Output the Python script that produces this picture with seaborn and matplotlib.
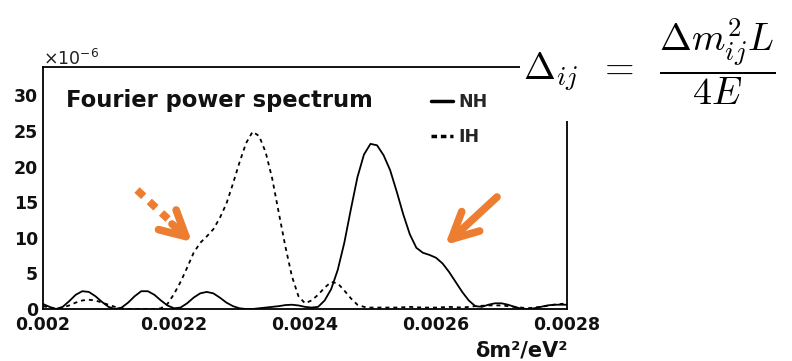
import numpy as np
import pandas as pd
import matplotlib
matplotlib.use("Agg")
import matplotlib.pyplot as plt
import seaborn as sns
from matplotlib.lines import Line2D
from matplotlib.patches import Rectangle
from matplotlib.ticker import MultipleLocator, FixedLocator, FixedFormatter

# ---------------- data (y in units of 1e-6) ----------------
nh_x = [0.00200, 0.00201, 0.00202, 0.00203, 0.00204, 0.00205, 0.00206, 0.00207, 0.00208, 0.00209,
        0.00210, 0.00211, 0.00212, 0.00213, 0.00214, 0.00215, 0.00216, 0.00217, 0.00218, 0.00219,
        0.00220, 0.00221, 0.00222, 0.00223, 0.00224, 0.00225, 0.00226, 0.00227, 0.00228, 0.00229,
        0.00230, 0.00231, 0.00232, 0.00233, 0.00234, 0.00235, 0.00236, 0.00237, 0.00238, 0.00239,
        0.00240, 0.00241, 0.00242, 0.00243, 0.00244, 0.00245, 0.00246, 0.00247, 0.00248, 0.00249,
        0.00250, 0.00251, 0.00252, 0.00253, 0.00254, 0.00255, 0.00256, 0.00257, 0.00258, 0.00259,
        0.00260, 0.00261, 0.00262, 0.00263, 0.00264, 0.00265, 0.00266, 0.00267, 0.00268, 0.00269,
        0.00270, 0.00271, 0.00272, 0.00273, 0.00274, 0.00275, 0.00276, 0.00277, 0.00278, 0.00279,
        0.00280]
nh_y = [0.7, 0.3, 0.0, 0.3, 1.1, 2.0, 2.5, 2.4, 1.8, 1.0,
        0.3, 0.0, 0.2, 0.9, 1.8, 2.5, 2.5, 2.0, 1.2, 0.5,
        0.1, 0.2, 0.8, 1.6, 2.2, 2.4, 2.2, 1.6, 0.9, 0.4,
        0.1, 0.0, 0.0, 0.1, 0.2, 0.3, 0.4, 0.55, 0.6, 0.5,
        0.3, 0.2, 0.3, 1.2, 2.8, 5.5, 9.3, 14.0, 18.5, 21.7,
        23.2, 23.0, 21.6, 19.5, 16.5, 13.3, 10.5, 8.6, 7.9, 7.6,
        7.2, 6.4, 5.2, 3.8, 2.4, 1.2, 0.4, 0.3, 0.6, 0.8,
        0.8, 0.6, 0.3, 0.05, 0.0, 0.1, 0.3, 0.5, 0.6, 0.6,
        0.6]

ih_x = [0.00200, 0.00201, 0.00202, 0.00203, 0.00204, 0.00205, 0.00206, 0.00207, 0.00208, 0.00209,
        0.00210, 0.00211, 0.00212, 0.00213, 0.00214, 0.00215, 0.00216, 0.00217, 0.00218, 0.00219,
        0.00220, 0.00221, 0.00222, 0.00223, 0.00224, 0.00225, 0.00226, 0.00227, 0.00228, 0.00229,
        0.00230, 0.00231, 0.00232, 0.00233, 0.00234, 0.00235, 0.00236, 0.00237, 0.00238, 0.00239,
        0.00240, 0.00241, 0.00242, 0.00243, 0.00244, 0.00245, 0.00246, 0.00247, 0.00248, 0.00249,
        0.00250, 0.00252, 0.00254, 0.00256, 0.00258, 0.00260, 0.00262, 0.00264, 0.00266, 0.00268,
        0.00270, 0.00272, 0.00274, 0.00276, 0.00278, 0.00280]
ih_y = [0.4, 0.2, 0.0, 0.2, 0.5, 0.9, 1.2, 1.3, 1.2, 0.9,
        0.6, 0.3, 0.1, 0.0, 0.0, 0.0, 0.0, 0.0, 0.1, 0.7,
        2.1, 3.8, 5.8, 7.9, 9.3, 10.2, 11.2, 12.8, 14.8, 17.6,
        20.6, 23.3, 24.9, 24.3, 22.0, 18.3, 13.5, 8.8, 4.6, 1.8,
        0.8, 1.2, 2.0, 3.0, 3.8, 3.6, 2.6, 1.5, 0.6, 0.3,
        0.2, 0.2, 0.2, 0.3, 0.2, 0.2, 0.3, 0.2, 0.4, 0.5,
        0.5, 0.3, 0.1, 0.3, 0.6, 0.8]

xtick_vals = [0.0020, 0.0022, 0.0024, 0.0026, 0.0028]
xtick_labels = ["0.002", "0.0022", "0.0024", "0.0026", "0.0028"]
ytick_vals = [0, 5, 10, 15, 20, 25, 30]
series_names = ["NH", "IH"]

df = pd.concat([
    pd.DataFrame({"x": nh_x, "y": nh_y, "h": "NH"}),
    pd.DataFrame({"x": ih_x, "y": ih_y, "h": "IH"}),
], ignore_index=True)

# ---------------- figure ----------------
sns.set_style("white")
plt.rcParams["font.family"] = ["DejaVu Sans"]
plt.rcParams["mathtext.fontset"] = "dejavusans"

W, H = 792, 361
fig = plt.figure(figsize=(W / 100, H / 100), dpi=100)
fig.patch.set_facecolor("white")


def fp(x, y):
    return (x / W, 1 - y / H)


L, R, T, B = 43, 567, 67, 309
ax = fig.add_axes([L / W, 1 - B / H, (R - L) / W, (B - T) / H])

sns.lineplot(data=df, x="x", y="y", style="h", style_order=series_names,
             dashes={"NH": "", "IH": (2.2, 2.2)}, color="black", lw=1.3,
             legend=False, ax=ax, sort=False)

ax.set_xlim(0.0020, 0.0028)
ax.set_ylim(0, 34)
ax.set_xlabel("")
ax.set_ylabel("")

for s in ax.spines.values():
    s.set_visible(True)
    s.set_color("black")
    s.set_linewidth(1.3)

ax.xaxis.set_major_locator(FixedLocator(xtick_vals))
ax.xaxis.set_major_formatter(FixedFormatter(xtick_labels))
ax.xaxis.set_minor_locator(MultipleLocator(0.00005))
ax.yaxis.set_major_locator(FixedLocator(ytick_vals))
ax.yaxis.set_minor_locator(MultipleLocator(1))

ax.tick_params(axis="both", which="both", direction="in", top=False, right=False,
               color="black", width=1.0)
ax.tick_params(axis="x", which="major", length=5.5, pad=5, labelsize=12.5)
ax.tick_params(axis="x", which="minor", length=2.5)
ax.tick_params(axis="y", which="major", length=11.5, pad=3.5, labelsize=12.5)
ax.tick_params(axis="y", which="minor", length=6)
for lab in ax.get_xticklabels() + ax.get_yticklabels():
    lab.set_fontweight("bold")
    lab.set_color("#111111")

# title inside plot
fig.text(*fp(66, 107), "Fourier power spectrum", fontsize=16.3, fontweight="bold",
         ha="left", va="baseline", color="#111111")

# legend
handles = [Line2D([], [], color="black", lw=2.5),
           Line2D([], [], color="black", lw=2.5, dashes=(1.6, 1.1))]
leg = ax.legend(handles, series_names, loc="upper left", bbox_to_anchor=fp(431, 93),
                bbox_transform=fig.transFigure, frameon=False, borderpad=0,
                borderaxespad=0, handlelength=1.25, handletextpad=0.35,
                labelspacing=1.0, prop={"weight": "bold", "size": 12.5})

# exponent label
fig.text(*fp(43, 65), r"$\times10^{-6}$", fontsize=12.5, ha="left", va="baseline",
         color="#222222")

# x-axis label
fig.text(*fp(567, 357), "δm²/eV²", fontsize=15, fontweight="bold",
         ha="right", va="baseline", color="#111111")

# white block + formula at top right
fig.patches.append(Rectangle(fp(520, 121), (W - 520) / W, 121 / H,
                             transform=fig.transFigure, facecolor="white",
                             edgecolor="none", zorder=2))
fig.text(*fp(523, 62), r"$\Delta_{ij}\;\;=\;\;\dfrac{\Delta m^2_{ij}L}{4E}$", fontsize=27.5,
         ha="left", va="center", color="black", zorder=3, math_fontfamily="cm")

# orange arrows
orange = "#ED7D31"
ax.annotate("", xy=fp(445, 245), xycoords="figure fraction",
            xytext=fp(497, 197), textcoords="figure fraction",
            arrowprops=dict(arrowstyle="->,head_length=19,head_width=9.5",
                            mutation_scale=1, lw=5.5, color=orange,
                            shrinkA=0, shrinkB=0, capstyle="round",
                            joinstyle="round"), annotation_clip=False)
ax.annotate("", xy=fp(192, 242), xycoords="figure fraction",
            xytext=fp(172, 224), textcoords="figure fraction",
            arrowprops=dict(arrowstyle="->,head_length=18,head_width=9.5",
                            mutation_scale=1, lw=5.5, color=orange,
                            shrinkA=0, shrinkB=0, capstyle="round",
                            joinstyle="round"), annotation_clip=False)
x0, y0 = fp(137, 190)
x1, y1 = fp(168, 219)
fig.add_artist(Line2D([x0, x1], [y0, y1], transform=fig.transFigure, color=orange,
                      lw=5.5, dashes=(1.2, 1.0), solid_capstyle="butt",
                      dash_capstyle="butt"))

fig.savefig("out.png", dpi=100, facecolor="white")
